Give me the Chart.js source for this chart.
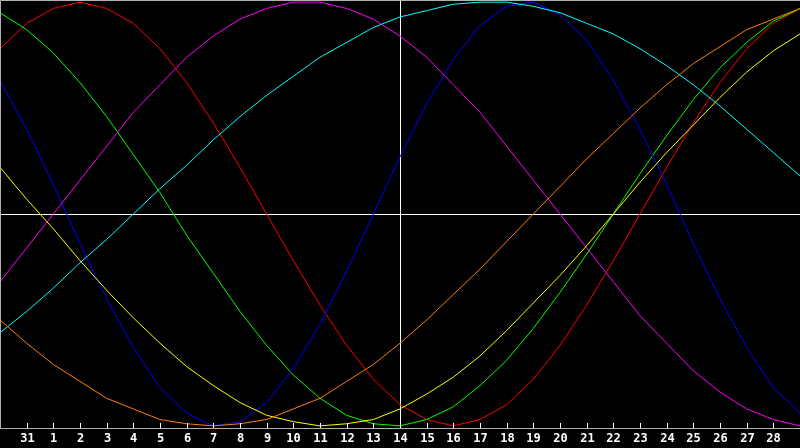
<!DOCTYPE html>
<html>
<head>
<meta charset="utf-8">
<script src="https://cdn.jsdelivr.net/npm/chart.js@4/dist/chart.umd.min.js"></script>
<style>
  html, body { margin: 0; padding: 0; background: #000; }
  #chart { display: block; }
</style>
</head>
<body>
<canvas id="chart" width="800" height="448"></canvas>
<script>
// days shown on the x axis (first and last are the edges, not labelled)
const days = ['30','31','1','2','3','4','5','6','7','8','9','10','11','12','13','14',
  '15','16','17','18','19','20','21','22','23','24','25','26','27','28','1'];
const markedDay = 15; // index of "14"

const red = [78,90,97,100,97,90,78,62,43,22,0,-22,-43,-62,-78,-90,-97,-100,-97,-90,-78,-62,-43,-22,0,22,43,62,78,90,97];
const green = [95,87,76,62,46,28,10,-10,-28,-46,-62,-76,-87,-95,-99,-100,-97,-91,-81,-69,-54,-37,-19,0,19,37,54,69,81,91,97];
const blue = [63,40,14,-14,-40,-63,-82,-94,-100,-98,-89,-73,-52,-27,0,27,52,73,89,98,100,94,82,63,40,14,-14,-40,-63,-82,-94];
const magenta = [-32,-16,0,16,32,48,61,74,84,92,97,100,100,97,92,84,74,61,48,32,16,0,-16,-32,-48,-61,-74,-84,-92,-97,-100];
const cyan = [-56,-46,-35,-23,-12,0,12,23,35,46,56,65,74,81,88,93,96,99,100,100,98,95,90,85,78,70,61,51,40,29,18];
const yellow = [22,7,-7,-22,-36,-49,-61,-72,-81,-89,-95,-98,-100,-99,-97,-92,-85,-77,-67,-55,-42,-29,-15,0,15,29,42,55,67,77,85];
const orange = [-50,-61,-71,-79,-87,-92,-97,-99,-100,-99,-97,-92,-87,-79,-71,-61,-50,-38,-26,-13,0,13,26,38,50,61,71,79,87,92,97];

function line(data, color){
  return { data: data, borderColor: color, borderWidth: 1, pointRadius: 0, tension: 0, fill: false };
}

// crosshair, frame, inward ticks and day labels
const framePlugin = {
  id: 'frame',
  beforeDatasetsDraw(chart){
    const c = chart.ctx, a = chart.chartArea;
    const x = Math.round(chart.scales.x.getPixelForValue(markedDay)) + 0.5;
    const y = Math.round(chart.scales.y.getPixelForValue(0)) + 0.5;
    c.save();
    c.strokeStyle = '#ffffff';
    c.lineWidth = 1;
    c.beginPath();
    c.moveTo(x, a.top); c.lineTo(x, a.bottom);
    c.moveTo(a.left, y); c.lineTo(a.right, y);
    c.stroke();
    c.restore();
  },
  afterDraw(chart){
    const c = chart.ctx, a = chart.chartArea, sx = chart.scales.x;
    c.save();
    c.strokeStyle = '#b0b0b0';
    c.lineWidth = 1;
    c.beginPath();
    c.moveTo(0.5, a.bottom + 0.5); c.lineTo(0.5, 0.5); c.lineTo(a.right, 0.5);
    c.moveTo(0, a.bottom + 0.5); c.lineTo(a.right, a.bottom + 0.5);
    c.stroke();
    c.strokeStyle = '#ffffff';
    c.fillStyle = '#ffffff';
    c.font = 'bold 12px "DejaVu Sans Mono"';
    c.textAlign = 'center';
    c.textBaseline = 'middle';
    c.beginPath();
    for(let i = 1; i < days.length - 1; i++){
      const px = Math.round(sx.getPixelForValue(i)) + 0.5;
      c.moveTo(px, a.bottom - 5); c.lineTo(px, a.bottom);
      c.fillText(days[i], px, a.bottom + 11);
    }
    c.stroke();
    c.restore();
  }
};

new Chart(document.getElementById('chart'), {
  type: 'line',
  data: {
    labels: days,
    datasets: [
      line(orange, '#ff8000'),
      line(yellow, '#ffff00'),
      line(cyan, '#00ffff'),
      line(magenta, '#ff00ff'),
      line(blue, '#0000ff'),
      line(green, '#00ff00'),
      line(red, '#ff0000')
    ]
  },
  options: {
    responsive: false,
    animation: false,
    devicePixelRatio: 1,
    layout: { padding: { left: 0, right: 0, top: 0, bottom: 20 } },
    plugins: { legend: { display: false }, tooltip: { enabled: false } },
    scales: {
      x: { display: false, offset: false },
      y: { display: false, min: -101, max: 101 }
    }
  },
  plugins: [framePlugin]
});
</script>
</body>
</html>
